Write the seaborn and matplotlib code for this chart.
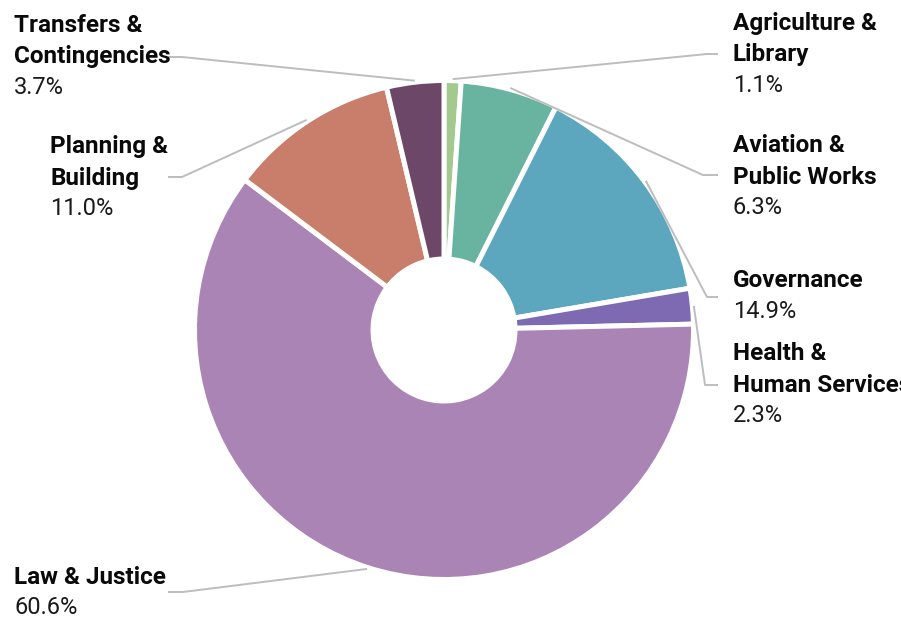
import numpy as np
import matplotlib
matplotlib.use("Agg")
import matplotlib.pyplot as plt
import seaborn as sns

# data (share of budget, %), clockwise from 12 o'clock
categories = ["Agriculture & Library", "Aviation & Public Works", "Governance",
              "Health & Human Services", "Law & Justice", "Planning & Building",
              "Transfers & Contingencies"]
shares = [1.1, 6.3, 14.9, 2.3, 60.6, 11.0, 3.7]
name_lines = [["Agriculture &", "Library"], ["Aviation &", "Public Works"],
              ["Governance"], ["Health &", "Human Services"], ["Law & Justice"],
              ["Planning &", "Building"], ["Transfers &", "Contingencies"]]
colors = ["#a3c98f", "#68b4a0", "#5ca7bd", "#7e6ab2", "#aa84b5", "#c97d6b", "#6c4767"]

# layout in pixels (top-left origin): label x, first baseline, elbow, leader end x
label_pos = [(733, 30), (733, 152), (733, 287), (733, 360), (14, 584), (50, 153), (14, 32)]
elbows = [(707, 54), (703, 175), (707, 297), (705, 385), (183, 592), (182, 177), (182, 57)]
leader_end_x = [718, 718, 718, 718, 168, 168, 168]

W, H = 901, 618
CX, CY = 444, 330
R_OUT, R_IN = 249.5, 71
LINE = 31.5


def main():
    sns.set_theme(style="white")
    plt.rcParams["font.family"] = ["Roboto", "DejaVu Sans"]

    fig = plt.figure(figsize=(W / 100, H / 100), dpi=100)
    ax = fig.add_axes([0, 0, 1, 1])

    wedges, _ = ax.pie(shares, colors=colors, startangle=90, counterclock=False,
                       center=(CX, H - CY), radius=R_OUT, frame=True,
                       wedgeprops=dict(width=R_OUT - R_IN, edgecolor="white",
                                       linewidth=3.6, joinstyle="round"))
    ax.set_xlim(0, W)
    ax.set_ylim(0, H)
    ax.set_aspect("equal")
    ax.axis("off")

    for i, w in enumerate(wedges):
        mid = np.deg2rad((w.theta1 + w.theta2) / 2)
        sx = CX + 251 * np.cos(mid)
        sy = (H - CY) + 251 * np.sin(mid)
        ex, ey = elbows[i]
        ax.plot([sx, ex, leader_end_x[i]], [sy, H - ey, H - ey],
                color="#bdbdbd", lw=1.4, zorder=1, solid_capstyle="butt")

        x, y0 = label_pos[i]
        for j, line in enumerate(name_lines[i]):
            ax.text(x, H - (y0 + j * LINE), line, fontsize=17.5, fontweight="bold",
                    color="#0a0a0a", ha="left", va="baseline", zorder=5)
        ax.text(x, H - (y0 + len(name_lines[i]) * LINE - 1), f"{shares[i]:.1f}%",
                fontsize=17, fontweight="normal", color="#1a1a1a",
                ha="left", va="baseline", zorder=5)

    fig.savefig("out.png", dpi=100, facecolor="white")


if __name__ == "__main__":
    main()
